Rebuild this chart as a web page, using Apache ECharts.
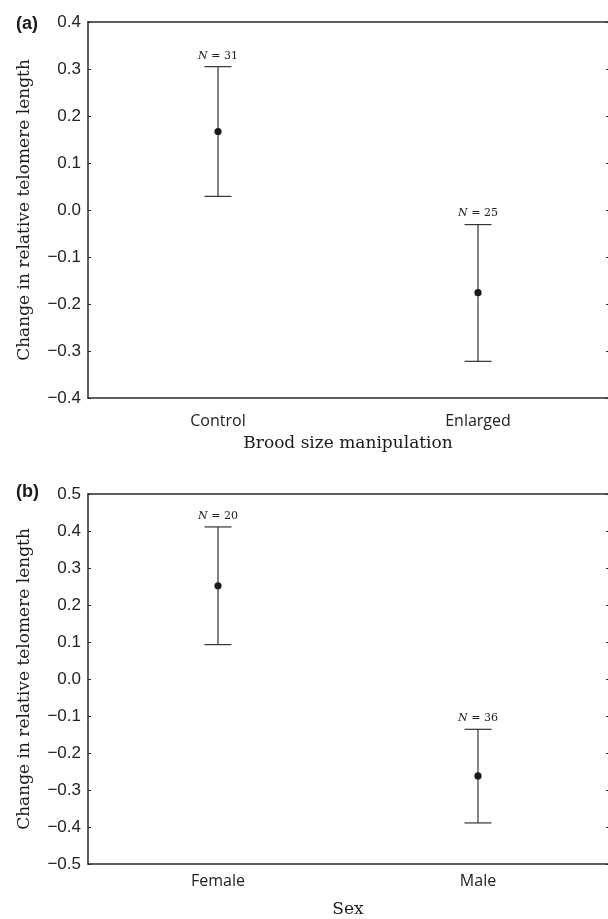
<!DOCTYPE html>
<html>
<head>
<meta charset="utf-8">
<script src="https://cdn.jsdelivr.net/npm/echarts@6/dist/echarts.min.js"></script>
<style>
  html, body { margin: 0; padding: 0; background: #fff; }
  #chart { width: 608px; height: 919px; }
</style>
</head>
<body>
<div id="chart"></div>
<script>
// panel (a) - brood size
var catsA = ['Control', 'Enlarged'];
var meanA = [0.167, -0.176];
var lowA = [0.029, -0.322];
var highA = [0.305, -0.031];
var nA = [31, 25];

// panel (b) - sex
var catsB = ['Female', 'Male'];
var meanB = [0.252, -0.262];
var lowB = [0.093, -0.389];
var highB = [0.411, -0.136];
var nB = [20, 36];

var yTicksA = [-0.4, 0.4, 0.1];
var yTicksB = [-0.5, 0.5, 0.1];

var lineCol = '#2a2a2a';
var tickFont = 'Liberation Sans';
var catFont = 'Open Sans';
var nameFont = 'DejaVu Serif';

function fmt(v) {
    var s = Math.abs(v).toFixed(1);
    return v < -1e-9 ? '\u2212' + s : s;
}

function rows(m, lo, hi, n) {
    return m.map(function (v, i) { return [i, v, lo[i], hi[i], n[i]]; });
}

// error bar + mean dot + N label
function drawBar(params, api) {
    var x = api.value(0);
    var pm = api.coord([x, api.value(1)]);
    var pl = api.coord([x, api.value(2)]);
    var ph = api.coord([x, api.value(3)]);
    var cap = 13.5;
    var st = { stroke: '#333', lineWidth: 1.2 };
    return {
        type: 'group',
        children: [
            { type: 'line', shape: { x1: pm[0], y1: ph[1], x2: pm[0], y2: pl[1] }, style: st },
            { type: 'line', shape: { x1: pm[0] - cap, y1: ph[1], x2: pm[0] + cap, y2: ph[1] }, style: st },
            { type: 'line', shape: { x1: pm[0] - cap, y1: pl[1], x2: pm[0] + cap, y2: pl[1] }, style: st },
            { type: 'circle', shape: { cx: pm[0], cy: pm[1], r: 3.6 }, style: { fill: '#1a1a1a' } },
            {
                type: 'text',
                x: pm[0], y: ph[1] - 11,
                style: {
                    text: '{i|N} = ' + api.value(4),
                    align: 'center', verticalAlign: 'middle',
                    font: '11px "' + nameFont + '"',
                    fill: '#222',
                    rich: { i: { fontStyle: 'italic', fontFamily: nameFont, fontSize: 11, fill: '#222' } }
                }
            }
        ]
    };
}

function xAxes(cats, gi, labelMargin, name) {
    return [{
        type: 'category', gridIndex: gi, data: cats, position: 'bottom',
        axisLine: { onZero: false, lineStyle: { color: lineCol, width: 1.5 } },
        axisTick: { inside: true, length: 3, lineStyle: { color: lineCol } },
        axisLabel: { color: '#222', fontFamily: catFont, fontSize: 16, margin: labelMargin },
        name: name, nameLocation: 'middle', nameGap: 37,
        nameTextStyle: { color: '#1a1a1a', fontFamily: nameFont, fontSize: 17 }
    }, {
        type: 'category', gridIndex: gi, data: cats, position: 'top',
        axisLine: { onZero: false, lineStyle: { color: lineCol, width: 1.5 } },
        axisTick: { inside: true, length: 3, lineStyle: { color: lineCol } },
        axisLabel: { show: false }
    }];
}

function yAxes(t, gi) {
    return [{
        type: 'value', gridIndex: gi, min: t[0], max: t[1], interval: t[2], position: 'left',
        axisLine: { show: true, onZero: false, lineStyle: { color: lineCol, width: 1.5 } },
        axisTick: { show: true, inside: true, length: 3, lineStyle: { color: lineCol } },
        splitLine: { show: false },
        axisLabel: { color: '#222', fontFamily: tickFont, fontSize: 17, margin: 7, formatter: fmt },
        name: 'Change in relative telomere length', nameLocation: 'middle', nameGap: 55,
        nameTextStyle: { color: '#1a1a1a', fontFamily: nameFont, fontSize: 17 }
    }, {
        type: 'value', gridIndex: gi, min: t[0], max: t[1], interval: t[2], position: 'right',
        axisLine: { show: false, onZero: false },
        axisTick: { show: true, inside: true, length: 2, lineStyle: { color: lineCol } },
        splitLine: { show: false },
        axisLabel: { show: false }
    }];
}

var chart = echarts.init(document.getElementById('chart'), null, { renderer: 'canvas' });

var option = {
    backgroundColor: '#fff',
    animation: false,
    title: [
        { text: '(a)', left: 11, top: 10, textStyle: { fontFamily: tickFont, fontWeight: 'bold', fontSize: 18, color: '#1a1a1a' } },
        { text: '(b)', left: 11, top: 478, textStyle: { fontFamily: tickFont, fontWeight: 'bold', fontSize: 18, color: '#1a1a1a' } }
    ],
    grid: [
        { left: 88, right: 0, top: 22, height: 376 },
        { left: 88, right: 0, top: 494, height: 373 }
    ],
    xAxis: xAxes(catsA, 0, 15, 'Brood size manipulation').concat(xAxes(catsB, 1, 9, 'Sex')),
    yAxis: yAxes(yTicksA, 0).concat(yAxes(yTicksB, 1)),
    series: [
        { type: 'custom', xAxisIndex: 0, yAxisIndex: 0, renderItem: drawBar, data: rows(meanA, lowA, highA, nA), clip: false },
        { type: 'custom', xAxisIndex: 2, yAxisIndex: 2, renderItem: drawBar, data: rows(meanB, lowB, highB, nB), clip: false }
    ]
};
chart.setOption(option);
</script>
</body>
</html>
